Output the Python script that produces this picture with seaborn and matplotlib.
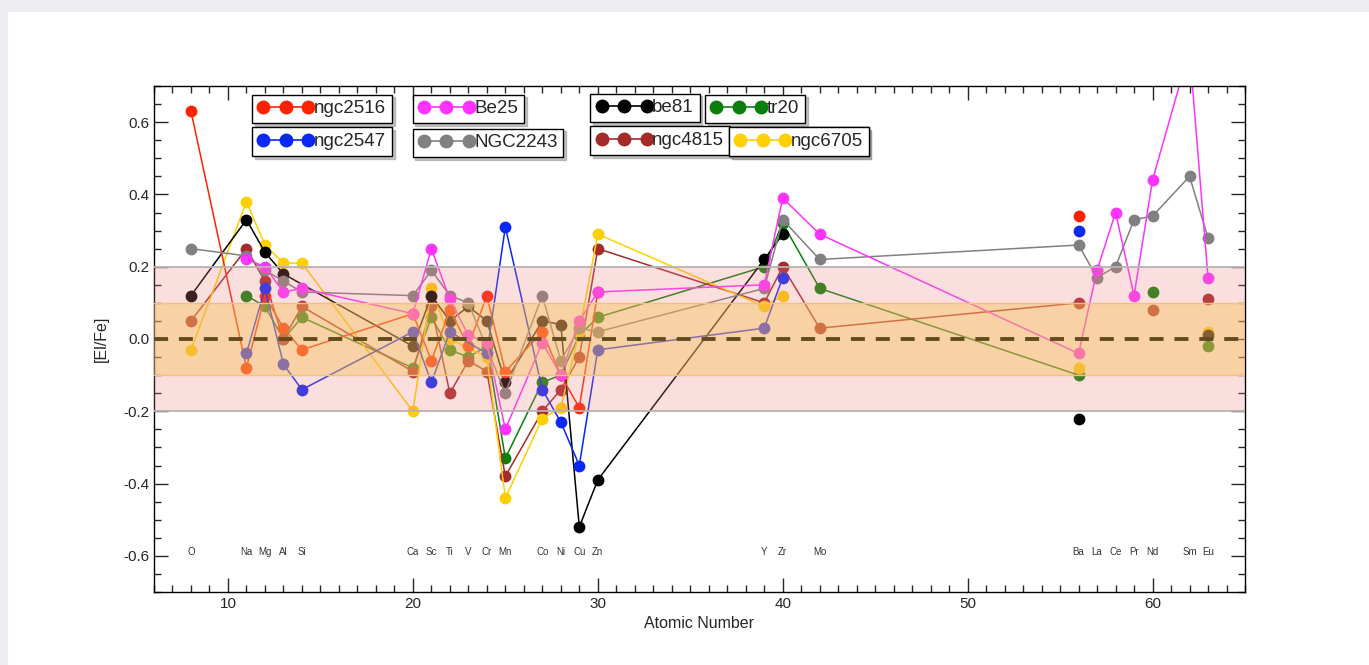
import numpy as np
import pandas as pd
import seaborn as sns
import matplotlib.pyplot as plt
from matplotlib.lines import Line2D
from matplotlib.patches import Rectangle
from matplotlib.ticker import MultipleLocator, FormatStrFormatter

N = None

elements = ['O', 'Na', 'Mg', 'Al', 'Si', 'Ca', 'Sc', 'Ti', 'V', 'Cr', 'Mn', 'Co', 'Ni', 'Cu', 'Zn',
            'Y', 'Zr', 'Mo', 'Ba', 'La', 'Ce', 'Pr', 'Nd', 'Sm', 'Eu']
atomic_number = [8, 11, 12, 13, 14, 20, 21, 22, 23, 24, 25, 27, 28, 29, 30,
                 39, 40, 42, 56, 57, 58, 59, 60, 62, 63]

# [El/Fe] per cluster, aligned with `elements` (None = not measured)
ngc2516 = [0.63, -0.08, 0.12, 0.03, -0.03, 0.07, -0.06, 0.08, -0.02, 0.12, -0.09, 0.02, -0.10, -0.19, 0.13,
           N, N, N, 0.34, N, N, N, N, N, N]
ngc2547 = [N, -0.04, 0.14, -0.07, -0.14, 0.02, -0.12, 0.02, N, -0.04, 0.31, -0.14, -0.23, -0.35, -0.03,
           0.03, 0.17, N, 0.30, N, N, N, N, N, N]
be25 = [N, 0.22, 0.20, 0.13, 0.14, 0.07, 0.25, 0.11, 0.01, -0.01, -0.25, -0.01, -0.10, 0.05, 0.13,
        0.15, 0.39, 0.29, -0.04, 0.19, 0.35, 0.12, 0.44, 0.80, 0.17]
ngc2243 = [0.25, 0.23, 0.19, 0.16, 0.13, 0.12, 0.19, 0.12, 0.10, N, -0.15, 0.12, -0.06, 0.03, 0.02,
           0.14, 0.33, 0.22, 0.26, 0.17, 0.20, 0.33, 0.34, 0.45, 0.28]
be81 = [0.12, 0.33, 0.24, 0.18, N, -0.02, 0.12, 0.05, 0.09, 0.05, -0.12, 0.05, 0.04, -0.52, -0.39,
        0.22, 0.29, N, -0.22, N, N, N, N, N, 0.01]
tr20 = [N, 0.12, 0.09, 0.00, 0.06, -0.08, 0.06, -0.03, -0.05, -0.02, -0.33, -0.12, -0.10, 0.01, 0.06,
        0.20, 0.32, 0.14, -0.10, N, N, N, 0.13, N, -0.02]
ngc4815 = [0.05, 0.25, 0.16, 0.00, 0.09, -0.09, 0.09, -0.15, -0.06, -0.09, -0.38, -0.20, -0.14, -0.05, 0.25,
           0.10, 0.20, 0.03, 0.10, N, N, N, 0.08, N, 0.11]
ngc6705 = [-0.03, 0.38, 0.26, 0.21, 0.21, -0.20, 0.14, 0.00, N, -0.05, -0.44, -0.22, -0.19, 0.02, 0.29,
           0.09, 0.12, N, -0.08, N, N, N, N, N, 0.02]

clusters = {'ngc2516': ngc2516, 'ngc2547': ngc2547, 'Be25': be25, 'NGC2243': ngc2243,
            'be81': be81, 'tr20': tr20, 'ngc4815': ngc4815, 'ngc6705': ngc6705}
# elements where the connecting line starts again
line_breaks = {'ngc2516': ['Ba'], 'ngc2547': ['Ba'], 'Be25': [], 'NGC2243': [],
               'be81': ['Ba', 'Eu'], 'tr20': ['Nd', 'Eu'], 'ngc4815': ['Nd', 'Eu'], 'ngc6705': ['Ba', 'Eu']}

colors = {'ngc2516': '#ff2200', 'ngc2547': '#0a28f5', 'Be25': '#ff33ff', 'NGC2243': '#808080',
          'be81': '#000000', 'tr20': '#0a800a', 'ngc4815': '#a52a2a', 'ngc6705': '#ffd000'}
draw_order = ['tr20', 'ngc4815', 'ngc6705', 'be81', 'ngc2516', 'ngc2547', 'NGC2243', 'Be25']

# legend box anchors (axes fraction, upper left)
legend_pos = {'ngc2516': (0.090, 0.983), 'ngc2547': (0.090, 0.918),
              'Be25': (0.237, 0.983), 'NGC2243': (0.237, 0.916),
              'be81': (0.400, 0.985), 'tr20': (0.505, 0.983),
              'ngc4815': (0.400, 0.920), 'ngc6705': (0.527, 0.918)}

rows = []
for name, vals in clusters.items():
    seg = 0
    for el, z, v in zip(elements, atomic_number, vals):
        if v is None:
            continue
        if el in line_breaks[name]:
            seg += 1
        rows.append({'cluster': name, 'Z': z, 'abund': v, 'seg': seg})
df = pd.DataFrame(rows)

sns.set_style('ticks')
plt.rcParams['font.family'] = ['Liberation Sans', 'DejaVu Sans']
plt.rcParams['axes.unicode_minus'] = False

fig = plt.figure(figsize=(13.69, 6.65), dpi=100, facecolor='#eeedf2')
fig.add_artist(Rectangle((8 / 1369, 0), 1, (665 - 12) / 665, transform=fig.transFigure,
                         facecolor='white', edgecolor='none', zorder=-1))
ax = fig.add_axes([154 / 1369, 73 / 665, 1091 / 1369, 506 / 665])

sns.lineplot(data=df, x='Z', y='abund', hue='cluster', hue_order=draw_order, units='seg',
             estimator=None, sort=False, palette=colors, marker='o', markersize=8.5,
             markeredgewidth=0, linewidth=1.1, legend=False, ax=ax, zorder=2)

# bands overlaid on the data
ax.axhspan(-0.2, 0.2, facecolor='#f08080', alpha=0.25, edgecolor='none', zorder=3)
for yv in (-0.2, 0.2):
    ax.axhline(yv, color='#b8b2b2', lw=1.3, zorder=3.1)
ax.axhline(0, color='black', lw=2.8, ls=(0, (3.6, 2.8)), zorder=3.5)
ax.axhspan(-0.1, 0.1, facecolor='#f5be50', alpha=0.4, edgecolor='none', zorder=4)
for yv in (-0.1, 0.1):
    ax.axhline(yv, color='#f4c080', lw=1.0, zorder=4.1)

for el, z in zip(elements, atomic_number):
    ax.text(z, -0.588, el, fontsize=7, ha='center', va='center', color='#333333', zorder=5)

ax.set_xlim(6, 65)
ax.set_ylim(-0.7, 0.7)
ax.xaxis.set_major_locator(MultipleLocator(10))
ax.xaxis.set_minor_locator(MultipleLocator(1))
ax.yaxis.set_major_locator(MultipleLocator(0.2))
ax.yaxis.set_minor_locator(MultipleLocator(0.05))
ax.yaxis.set_major_formatter(FormatStrFormatter('%.1f'))
ax.tick_params(which='both', direction='in', top=True, right=True, labelsize=11, width=1)
ax.tick_params(which='major', length=10)
ax.tick_params(which='minor', length=5)
for sp in ax.spines.values():
    sp.set_linewidth(1.0)
    sp.set_color('black')
ax.set_xlabel('Atomic Number', fontsize=11.5, labelpad=4)
ax.set_ylabel('[El/Fe]', fontsize=11.5, labelpad=10)

for name in clusters:
    h = Line2D([], [], color=colors[name], marker='o', markersize=10, lw=1.2, markeredgewidth=0)
    leg = ax.legend([h], [name], loc='upper left', bbox_to_anchor=legend_pos[name],
                    borderaxespad=0, numpoints=3, handlelength=3.0, handletextpad=0.0,
                    borderpad=0.3, fontsize=13.5, frameon=True, fancybox=False, framealpha=1,
                    edgecolor='black', shadow={'color': '0.55', 'alpha': 0.5})
    leg.get_frame().set_linewidth(1.0)
    leg.set_zorder(10)
    ax.add_artist(leg)

fig.savefig('out.png', dpi=100, facecolor=fig.get_facecolor())
